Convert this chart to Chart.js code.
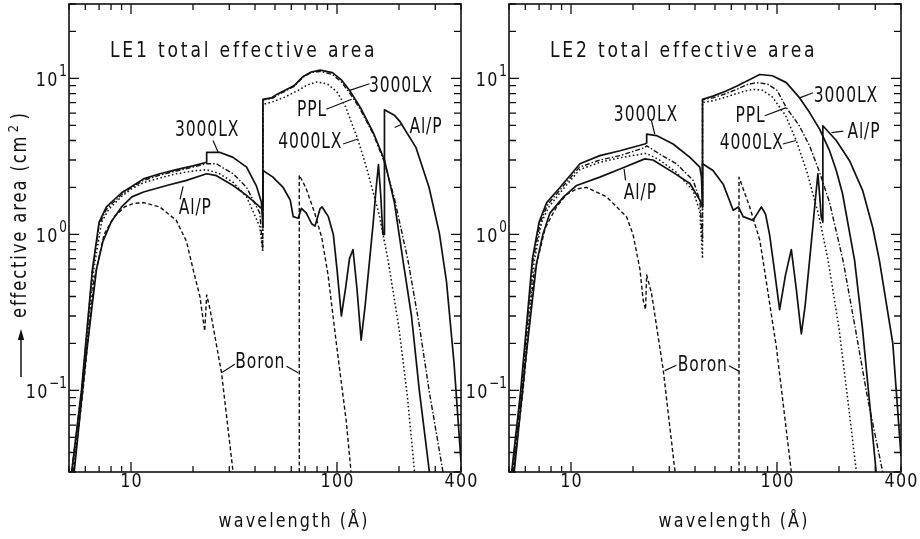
<!DOCTYPE html>
<html>
<head>
<meta charset="utf-8">
<script src="https://cdn.jsdelivr.net/npm/chart.js@4.4.1/dist/chart.umd.min.js"></script>
<style>
  body { margin: 0; background: #fff; width: 920px; height: 539px; overflow: hidden; position: relative; }
  .panel { position: absolute; top: 0; width: 480px; height: 539px; }
  #p1 { left: 0; }
  #p2 { left: 440px; }
</style>
</head>
<body>
<div class="panel" id="p1"><canvas id="le1" width="480" height="539"></canvas></div>
<div class="panel" id="p2"><canvas id="le2" width="480" height="539"></canvas></div>
<script>
// axis ranges and ticks (wavelength in Angstrom, area in cm^2)
const xMin = 5, xMax = 400, yMin = 0.03, yMax = 30;
const xTicks = [5, 6, 7, 8, 9, 10, 20, 30, 40, 50, 60, 70, 80, 90, 100, 200, 300, 400];
const yTicks = [0.03, 0.04, 0.05, 0.06, 0.07, 0.08, 0.09, 0.1, 0.2, 0.3, 0.4, 0.5, 0.6, 0.7, 0.8, 0.9,
                1, 2, 3, 4, 5, 6, 7, 8, 9, 10, 20, 30];
const xMajor = [10, 100];
const yMajor = [0.1, 1, 10];
const xLabelValues = [10, 100, 400];
const xLabelText = ['10', '100', '400'];
const yLabelValues = [10, 1, 0.1];
const yLabelExp = ['1', '0', '\u22121'];

// ---- LE1 curves [wavelength, area] ----
const le1_3000lx = [[5.15,0.03],[5.75,0.1],[6.5,0.6],[7.0,1.2],[7.6,1.5],[8.2,1.65],[9.0,1.85],[9.9,2.0],
  [11.5,2.27],[13.8,2.45],[16.6,2.6],[20,2.75],[23.3,2.9],[23.3,3.36],[26.9,3.36],[31.3,3.12],[36.4,2.7],
  [40.6,2.05],[43,1.6],[43.7,1.1],[43.7,7.35],[48,7.5],[50.9,7.9],[56.9,8.5],[62,9.0],[68.5,10.3],[75,11.0],
  [83,11.3],[95,10.9],[105,9.8],[115,8.4],[130,6.5],[150,4.5],[170,3.0],[190,1.6],[209,0.685],[230,0.3],
  [251,0.1],[281,0.03]];
const le1_ppl = [[5.15,0.03],[5.75,0.1],[6.5,0.58],[7.0,1.15],[7.6,1.45],[8.2,1.6],[9.0,1.8],[9.9,1.97],
  [11.5,2.22],[13.8,2.4],[16.6,2.55],[20,2.7],[23.3,2.84],[25.9,2.84],[31.3,2.45],[36.4,2.0],[42.2,1.37],
  [43.6,0.8],[43.7,7.3],[48,7.4],[57,8.4],[62,8.9],[68.5,10.2],[75,10.9],[83,11.1],[95,10.6],[105,9.5],
  [118,7.7],[130,6.3],[150,4.4],[170,2.9],[190,1.7],[221,0.685],[250,0.27],[280,0.1],[327,0.03]];
const le1_4000lx = [[5.2,0.03],[5.8,0.1],[6.6,0.6],[7.2,1.2],[7.8,1.45],[9,1.75],[10,1.95],[11.5,2.15],
  [13.8,2.3],[16.6,2.45],[20,2.55],[23.3,2.6],[26.9,2.45],[31.3,2.16],[36.4,1.74],[42.2,1.12],[43.6,0.77],
  [43.7,6.8],[48.9,7.1],[56,7.6],[65,8.4],[72,9.1],[80,9.5],[90,9.2],[100,8.2],[110,6.6],[126,4.1],
  [140,2.6],[160,1.35],[177,0.685],[200,0.25],[220,0.09],[238,0.03]];
const le1_alp = [[5.3,0.03],[6.0,0.15],[6.8,0.6],[7.3,0.9],[8,1.2],[9,1.5],[10.1,1.74],[11.5,1.87],
  [14.9,2.06],[18.6,2.22],[23.3,2.45],[26,2.38],[31.3,2.06],[36.4,1.78],[42.2,1.5],[43.6,1.45],[43.7,2.57],
  [48.9,2.33],[50.6,2.22],[54.8,2.0],[59.3,1.66],[61.3,1.3],[64.9,1.27],[67.2,1.47],[71,1.37],[75.4,1.17],
  [78.2,1.13],[82.9,1.47],[84.7,1.5],[90.8,1.3],[96,1.0],[100,0.6],[105,0.3],[110,0.45],[115,0.7],
  [119.6,0.8],[125,0.45],[131,0.21],[137,0.35],[144,0.685],[150,1.2],[155,2.0],[159,2.8],[163,1.8],
  [167,1.0],[170,1.0],[170,6.3],[190,5.8],[201,5.35],[242,3.6],[280,2.0],[314,1.02],[340,0.5],
  [370,0.15],[400,0.035]];
const le1_boronLo = [[5.25,0.03],[5.85,0.1],[6.6,0.5],[7.4,1.0],[8.3,1.3],[9.3,1.5],[10.3,1.58],[11.5,1.6],
  [13.8,1.5],[16.6,1.23],[18.6,0.9],[20,0.6],[21.6,0.4],[22.8,0.24],[23.3,0.41],[24.2,0.33],[27.5,0.13],
  [31.3,0.03]];
const le1_boronHi = [[65.6,0.03],[65.6,2.4],[70.5,2.0],[78,1.37],[84.4,0.95],[90.5,0.55],[99.3,0.2],
  [111,0.063],[117,0.03]];

// ---- LE2 curves ----
const le2_3000lx = [[5.15,0.03],[5.7,0.1],[6.5,0.7],[7.0,1.2],[7.62,1.6],[8.84,2.0],[11.05,2.84],[13.8,3.2],
  [17.3,3.44],[22.8,3.8],[23.3,3.85],[23.3,4.4],[26,4.3],[31.3,3.8],[37.8,3.12],[42.2,2.7],[43.0,2.33],
  [43.5,1.5],[43.5,7.35],[48.9,7.7],[56.6,8.3],[63.6,8.9],[71.1,9.6],[82.5,10.6],[95,10.4],[111,9.4],
  [128.8,7.5],[144,6.04],[161,4.73],[180,3.44],[194,2.57],[208,1.83],[238,0.685],[260,0.25],[280,0.09],
  [303,0.03]];
const le2_ppl = [[5.2,0.03],[5.75,0.1],[6.5,0.65],[7.1,1.2],[7.7,1.55],[8.9,1.95],[11,2.7],[13.8,3.0],
  [17.3,3.2],[22.8,3.6],[23.3,3.7],[26.9,3.28],[32.5,2.84],[39.2,2.22],[42.2,1.66],[43.5,0.9],[43.5,7.3],
  [48.9,7.5],[56.6,8.0],[63.6,8.5],[71,9.1],[79.5,9.4],[90,9.2],[100,8.4],[111,6.5],[128,5.0],[144,3.7],
  [161,2.5],[180,1.6],[209,0.685],[240,0.25],[275,0.09],[326,0.03]];
const le2_4000lx = [[5.2,0.03],[5.8,0.1],[6.6,0.65],[7.2,1.2],[7.8,1.5],[9,1.9],[11,2.6],[13.8,2.9],
  [17.3,3.1],[22.8,3.3],[23.3,3.3],[26.9,3.0],[32.5,2.5],[39.2,1.9],[42.2,1.4],[43.5,0.7],[43.5,7.0],
  [48.9,7.2],[56.6,7.6],[63.6,8.0],[70,8.3],[76.5,8.5],[85,8.4],[95,7.6],[110,5.8],[124,4.0],[140,2.5],
  [160,1.3],[177,0.685],[200,0.25],[220,0.09],[243,0.03]];
const le2_alp = [[5.3,0.03],[6.0,0.15],[6.8,0.65],[7.3,1.0],[7.9,1.37],[9.2,1.74],[10.65,2.06],[13.8,2.33],
  [17.3,2.63],[22.8,3.05],[25,3.0],[31.3,2.5],[37.8,2.12],[42.2,1.66],[43.5,1.5],[43.5,2.84],[48.9,2.57],
  [54.8,2.1],[61.3,1.43],[65,1.5],[68.5,1.3],[76.5,1.23],[84,1.5],[88,1.35],[92,1.0],[97,0.6],[103,0.33],
  [110,0.55],[117.4,0.8],[124,0.45],[131.3,0.23],[137,0.35],[144,0.685],[150,1.2],[155,1.9],[158,2.45],
  [161,1.8],[164,1.3],[167,1.2],[167,4.97],[194,4.0],[225,2.97],[261,1.9],[292,1.1],[314,0.685],
  [365,0.2],[400,0.038]];
const le2_boronLo = [[5.25,0.03],[5.85,0.1],[6.6,0.55],[7.5,1.1],[8.5,1.5],[9.5,1.8],[10.65,1.96],[11.9,2.0],
  [14.9,1.74],[18.6,1.3],[20,1.0],[21.6,0.6],[22.4,0.38],[23.0,0.33],[23.3,0.55],[24.6,0.42],[28,0.137],
  [32,0.03]];
const le2_boronHi = [[65.4,0.03],[65.4,2.33],[73.7,1.5],[82.5,0.92],[85.5,0.685],[99.3,0.19],[117.4,0.03]];

// curve labels: text, centre [wavelength, area], leader lines
const le1Labels = [
  { text: '3000LX', at: [23.3, 4.6], lead: [[[25.0, 4.0], [26.5, 3.36]]] },
  { text: 'Al/P', at: [20.4, 1.47], lead: [[[17.3, 1.68], [17.9, 2.03]]] },
  { text: '3000LX', at: [203.6, 8.93], lead: [[[115.2, 8.39], [143.9, 9.24]]] },
  { text: 'PPL', at: [75.2, 6.19], lead: [[[88.7, 6.35], [117.8, 7.35]]] },
  { text: '4000LX', at: [73.8, 3.89], lead: [[[107, 3.8], [126.4, 4.09]]] },
  { text: 'Al/P', at: [269, 4.82], lead: [[[190.5, 4.85], [208, 5.1]]] },
  { text: 'Boron', at: [42.2, 0.151], lead: [[[31.9, 0.147], [27.5, 0.13]], [[56.9, 0.143], [64.7, 0.13]]] }
];
const le2Labels = [
  { text: '3000LX', at: [23.0, 5.75], lead: [[[24.6, 5.35], [25.5, 4.4]]] },
  { text: 'Al/P', at: [21.6, 1.84], lead: [[[18.4, 2.22], [18.1, 2.63]]] },
  { text: '3000LX', at: [215, 7.7], lead: [[[128.8, 7.5], [149.6, 8.1]]] },
  { text: 'PPL', at: [74.0, 5.66], lead: [[[87.2, 5.77], [111, 6.5]]] },
  { text: '4000LX', at: [75.1, 3.8], lead: [[[106.9, 3.8], [123.5, 4.0]]] },
  { text: 'Al/P', at: [263, 4.5], lead: [[[184, 4.5], [210, 4.6]]] },
  { text: 'Boron', at: [43.4, 0.145], lead: [[[32.5, 0.145], [28.5, 0.134]], [[58.5, 0.144], [65.9, 0.132]]] }
];

const FONT = '"DejaVu Sans", sans-serif';

function drawText(ctx, str, x, y, size, align, sx, spacing) {
  ctx.save();
  ctx.font = size + 'px ' + FONT;
  ctx.letterSpacing = spacing + 'px';
  const w = (ctx.measureText(str).width - spacing) * sx;
  ctx.translate(x, y);
  ctx.scale(sx, 1);
  ctx.textBaseline = 'middle';
  ctx.textAlign = 'left';
  let off = 0;
  if (align === 'center') off = -w / 2 / sx;
  if (align === 'right') off = -w / sx;
  ctx.fillText(str, off, 0);
  ctx.restore();
  return w;
}

const framePlugin = {
  id: 'frame',
  afterDatasetsDraw(chart, args, opts) {
    const ctx = chart.ctx;
    const a = chart.chartArea;
    const xs = chart.scales.x, ys = chart.scales.y;
    const px = v => xs.getPixelForValue(v);
    const py = v => ys.getPixelForValue(v);
    ctx.save();
    ctx.fillStyle = '#111';
    ctx.strokeStyle = '#111';

    // frame and inward ticks on all sides
    ctx.lineWidth = 1.6;
    ctx.strokeRect(a.left, a.top, a.right - a.left, a.bottom - a.top);
    ctx.lineWidth = 1.3;
    ctx.beginPath();
    xTicks.forEach(v => {
      const x = px(v), len = xMajor.includes(v) ? 10 : 6;
      ctx.moveTo(x, a.bottom); ctx.lineTo(x, a.bottom - len);
      ctx.moveTo(x, a.top); ctx.lineTo(x, a.top + len);
    });
    yTicks.forEach(v => {
      const y = py(v), len = yMajor.includes(v) ? 10 : 7;
      ctx.moveTo(a.left, y); ctx.lineTo(a.left + len, y);
      ctx.moveTo(a.right, y); ctx.lineTo(a.right - len, y);
    });
    ctx.stroke();

    // tick labels
    xLabelValues.forEach((v, i) => drawText(ctx, xLabelText[i], px(v), a.bottom + 10, 20, 'center', 0.8, 1.5));
    yLabelValues.forEach((v, i) => {
      const y = py(v);
      ctx.save();
      ctx.font = '15px ' + FONT;
      const supW = ctx.measureText(yLabelExp[i]).width * 0.8;
      ctx.restore();
      const right = a.left - 2;
      drawText(ctx, yLabelExp[i], right - supW, y - 6, 15, 'left', 0.8, 0);
      drawText(ctx, '10', right - supW - 2, y + 2, 20, 'right', 0.8, 1.5);
    });

    // axis titles
    drawText(ctx, 'wavelength (\u00c5)', (a.left + a.right) / 2 + 28, 522, 20, 'center', 0.8, 2.6);
    if (opts.yTitle) {
      ctx.save();
      ctx.translate(21, 204);
      ctx.rotate(-Math.PI / 2);
      const w1 = drawText(ctx, 'effective area (cm', -114, 0, 21, 'left', 0.78, 2.4);
      drawText(ctx, '2', -114 + w1 + 4, -7, 14, 'left', 0.85, 0);
      drawText(ctx, ')', -114 + w1 + 17, 0, 21, 'left', 0.78, 0);
      // arrow
      ctx.lineWidth = 1.5;
      ctx.beginPath();
      ctx.moveTo(-173, 0); ctx.lineTo(-130, 0);
      ctx.stroke();
      ctx.beginPath();
      ctx.moveTo(-125, 0); ctx.lineTo(-136, -3.2); ctx.lineTo(-136, 3.2); ctx.closePath();
      ctx.fill();
      ctx.restore();
    }

    // panel title
    drawText(ctx, opts.title, a.left + 41, a.top + 47, 22, 'left', 0.78, 3.6);

    // curve labels with leader lines
    ctx.lineWidth = 1.2;
    opts.labels.forEach(l => {
      drawText(ctx, l.text, px(l.at[0]), py(l.at[1]), 21, 'center', 0.74, 1.2);
      l.lead.forEach(seg => {
        ctx.beginPath();
        ctx.moveTo(px(seg[0][0]), py(seg[0][1]));
        ctx.lineTo(px(seg[1][0]), py(seg[1][1]));
        ctx.stroke();
      });
    });
    ctx.restore();
  }
};

const styles = {
  solid: { borderDash: [], borderWidth: 1.7 },
  dashdot: { borderDash: [5, 2, 1.5, 2], borderWidth: 1.4 },
  dotted: { borderDash: [1.6, 2.4], borderWidth: 1.5 },
  dashed: { borderDash: [4, 2.5], borderWidth: 1.4 }
};

function series(arr, kind) {
  return Object.assign({
    data: arr.map(p => ({ x: p[0], y: p[1] })),
    borderColor: '#111',
    pointRadius: 0,
    fill: false,
    tension: 0
  }, styles[kind]);
}

function makePanel(id, curves, title, labels, yTitle) {
  return new Chart(document.getElementById(id), {
    type: 'line',
    data: { datasets: curves.map(c => series(c[0], c[1])) },
    options: {
      responsive: false,
      animation: false,
      devicePixelRatio: 1,
      events: [],
      layout: { padding: { left: 0, right: 19, top: 4, bottom: 0 } },
      plugins: {
        legend: { display: false },
        tooltip: { enabled: false },
        frame: { title: title, labels: labels, yTitle: yTitle }
      },
      elements: { line: { borderCapStyle: 'butt', borderJoinStyle: 'round' } },
      scales: {
        x: {
          type: 'logarithmic', min: xMin, max: xMax,
          ticks: { display: false }, grid: { display: false }, border: { display: false },
          afterFit: s => { s.height = 67; }
        },
        y: {
          type: 'logarithmic', min: yMin, max: yMax,
          ticks: { display: false }, grid: { display: false }, border: { display: false },
          afterFit: s => { s.width = 69; }
        }
      }
    },
    plugins: [framePlugin]
  });
}

makePanel('le1', [
  [le1_3000lx, 'solid'], [le1_ppl, 'dashdot'], [le1_4000lx, 'dotted'], [le1_alp, 'solid'],
  [le1_boronLo, 'dashed'], [le1_boronHi, 'dashed']
], 'LE1 total effective area', le1Labels, true);

makePanel('le2', [
  [le2_3000lx, 'solid'], [le2_ppl, 'dashdot'], [le2_4000lx, 'dotted'], [le2_alp, 'solid'],
  [le2_boronLo, 'dashed'], [le2_boronHi, 'dashed']
], 'LE2 total effective area', le2Labels, false);
</script>
</body>
</html>
